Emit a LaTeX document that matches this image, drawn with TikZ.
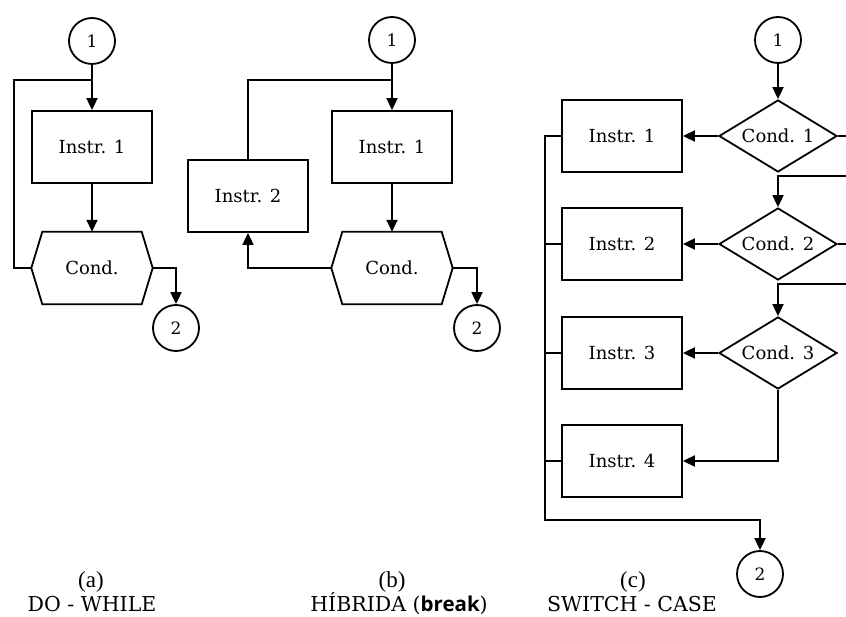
\documentclass[tikz,border=0pt]{standalone}
\usepackage{fontspec}
\setmainfont{DejaVu Serif}
\newfontfamily\parenfont{Liberation Serif}
\newfontfamily\kwfont{Open Sans}
\usetikzlibrary{arrows.meta,shapes.geometric}

\tikzset{
  every picture/.style={x=1pt,y=-1pt},
  flow/.style={line width=1.8pt},
  arr/.style={flow,-{Triangle[length=12pt,width=11pt]}},
  txt/.style={font=\fontsize{18}{20}\selectfont},
  instr/.style={txt,draw,line width=1.8pt,rectangle,minimum width=120pt,minimum height=72pt,inner sep=0pt},
  condbox/.style={txt,rectangle,minimum width=121pt,minimum height=72pt,inner sep=0pt},
  cond/.style={txt,draw,line width=1.8pt,diamond,minimum width=118pt,minimum height=72pt,inner sep=0pt,shape aspect=1.64},
  conn/.style={draw,line width=1.8pt,circle,minimum size=46pt,inner sep=0pt,font=\fontsize{17}{19}\selectfont},
  subcap/.style={font=\parenfont\fontsize{23}{25}\selectfont,inner sep=0pt},
  maincap/.style={font=\fontsize{20.5}{22}\selectfont,inner sep=0pt}
}

% hexagonal decision box drawn round a plain node
\newcommand{\hexoutline}[1]{%
  \draw[flow,line join=miter] (#1.west) -- ([xshift=11pt]#1.north west) -- ([xshift=-11pt]#1.north east)
    -- (#1.east) -- ([xshift=-11pt]#1.south east) -- ([xshift=11pt]#1.south west) -- cycle;}

\begin{document}
\begin{tikzpicture}
\useasboundingbox (0,0) rectangle (846,617);
\clip (0,0) rectangle (846,617);

% ---------- (a) DO - WHILE ----------
\node[conn] (c1a) at (92,41) {1};
\node[instr] (ia) at (92,147) {Instr. 1};
\node[condbox] (ca) at (92,268) {Cond.};
\hexoutline{ca}
\node[conn] (c2a) at (176,328) {2};
\coordinate (ja) at (92,80);
\coordinate (la) at (14,80);
\draw[arr] (c1a) -- (ia);
\draw[flow] (ca.west) -| (la) -- (ja);
\draw[arr] (ia) -- (ca);
\draw[arr] (ca.east) -| (c2a);

% ---------- (b) HIBRIDA ----------
\node[conn] (c1b) at (392,40) {1};
\node[instr] (i1b) at (392,147) {Instr. 1};
\node[instr] (i2b) at (248,196) {Instr. 2};
\node[condbox] (cb) at (392,268) {Cond.};
\hexoutline{cb}
\node[conn] (c2b) at (477,328) {2};
\coordinate (jb) at (392,80);
\draw[arr] (c1b) -- (i1b);
\draw[flow] (jb) -| (i2b.north);
\draw[arr] (i1b) -- (cb);
\draw[arr] (cb.west) -| (i2b.south);
\draw[arr] (cb.east) -| (c2b);

% ---------- (c) SWITCH - CASE ----------
\node[conn] (c1c) at (778,40) {1};
\node[cond] (d1) at (778,136) {Cond. 1};
\node[cond] (d2) at (778,244) {Cond. 2};
\node[cond] (d3) at (778,353) {Cond. 3};
\node[instr] (i1c) at (622,136) {Instr. 1};
\node[instr] (i2c) at (622,244) {Instr. 2};
\node[instr] (i3c) at (622,353) {Instr. 3};
\node[instr] (i4c) at (622,461) {Instr. 4};
\node[conn] (c2c) at (760,574) {2};

\coordinate (o1) at (880,176);
\coordinate (o2) at (880,284);
\coordinate (b1) at (545,136);
\coordinate (b2) at (545,244);
\coordinate (b3) at (545,353);
\coordinate (b4) at (545,461);
\coordinate (bb) at (545,520);

\draw[arr] (c1c) -- (d1);
\draw[arr] (d1.west) -- (i1c.east);
\draw[arr] (d2.west) -- (i2c.east);
\draw[arr] (d3.west) -- (i3c.east);
\draw[arr] (d3.south) |- (i4c.east);
\draw[arr] (d1.east) -| (o1) -| (d2.north);
\draw[arr] (d2.east) -| (o2) -| (d3.north);
\draw[flow] (i2c.west) -- (b2);
\draw[flow] (i3c.west) -- (b3);
\draw[flow] (i4c.west) -- (b4);
\draw[arr] (i1c.west) -- (b1) -- (bb) -| (c2c);

% ---------- captions ----------
\node[subcap] (sa) at (91,582) {(a)};
\node[maincap] (ma) at (92,604) {DO - WHILE};
\node[subcap] (sb) at (392,582) {(b)};
\node[maincap] (mb) at (399,604) {HÍBRIDA ({\kwfont\bfseries break})};
\node[subcap] (sc) at (633,582) {(c)};
\node[maincap] (mc) at (632,604) {SWITCH - CASE};
\end{tikzpicture}
\end{document}
